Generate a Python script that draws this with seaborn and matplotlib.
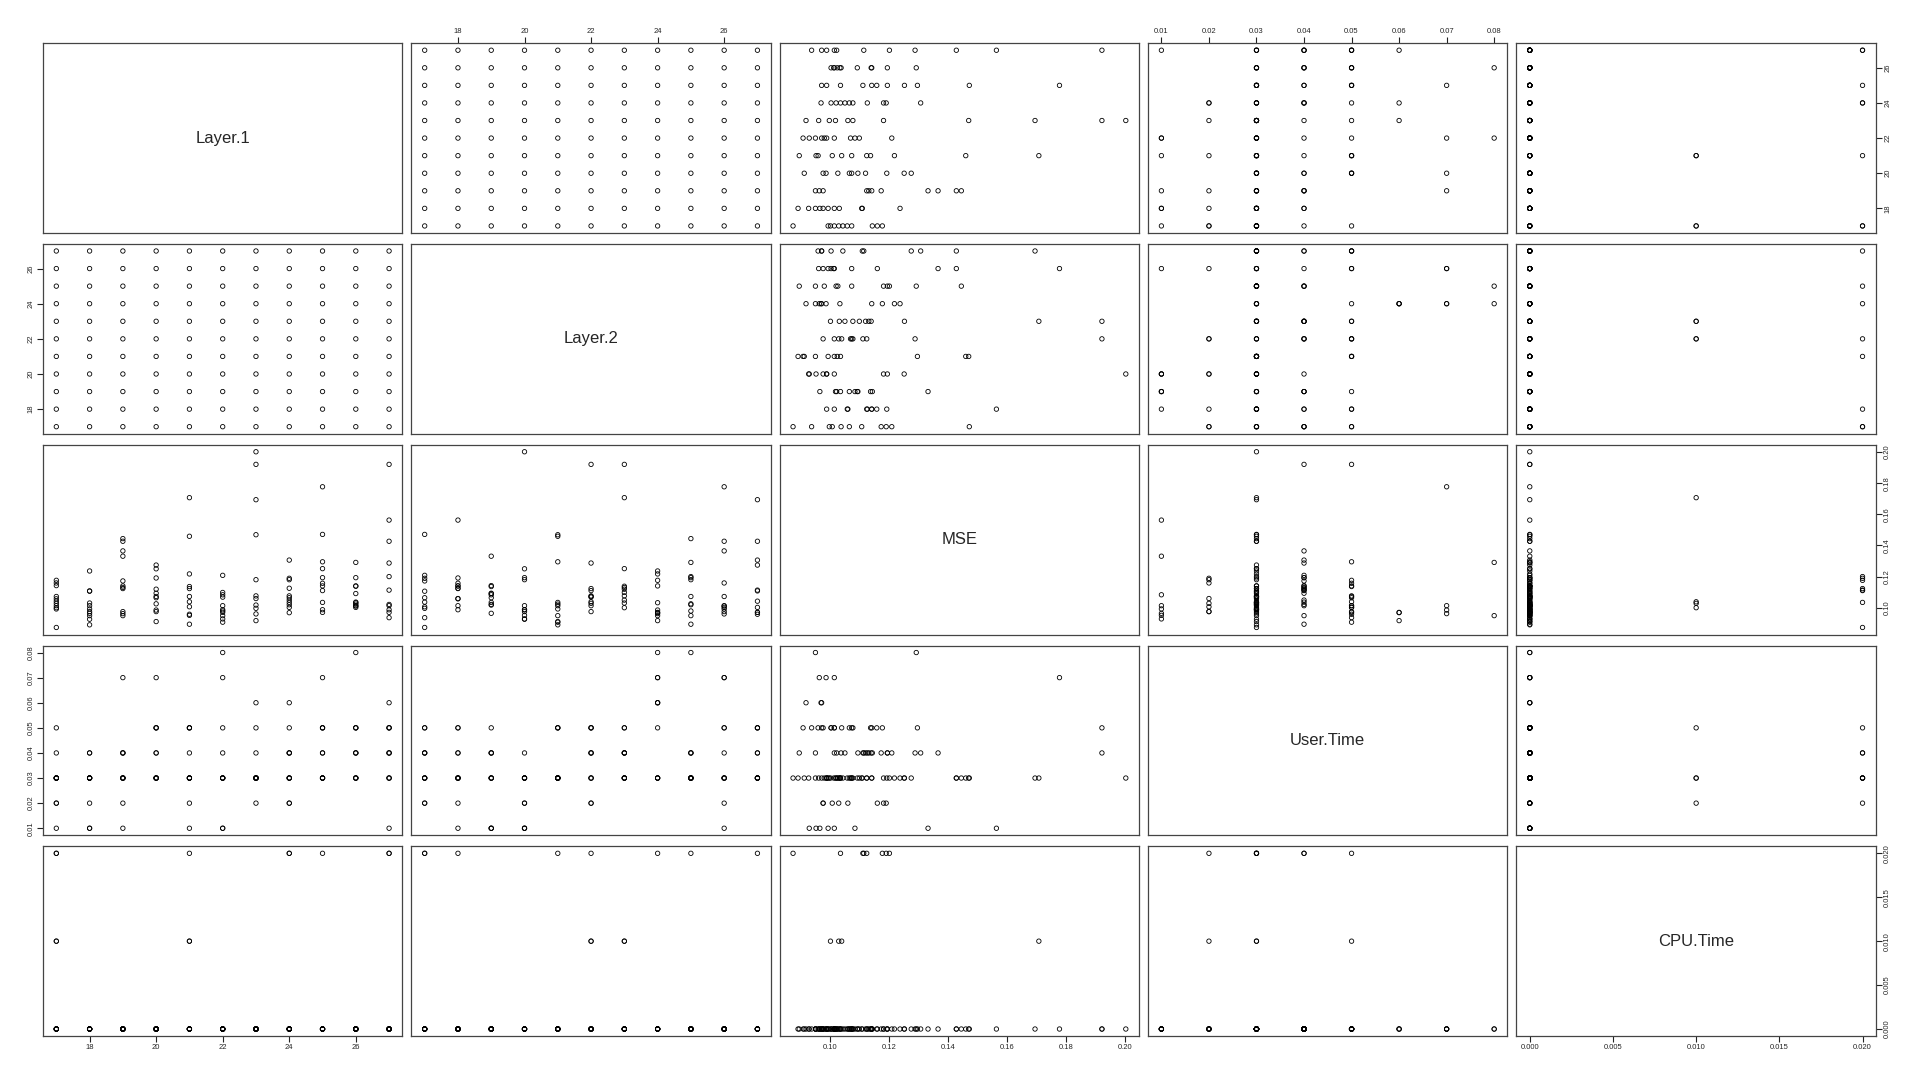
import numpy as np
import pandas as pd
import seaborn as sns
import matplotlib.pyplot as plt
from matplotlib.ticker import FormatStrFormatter

# grid of hidden-layer sizes
layer_sizes = list(range(17, 28))

# MSE, rows = Layer.1 (17..27), columns = Layer.2 (17..27)
mse = [
    [0.0873, 0.1057, 0.1142, 0.1013, 0.0992, 0.1028, 0.1000, 0.1176, 0.1072, 0.1159, 0.1042],
    [0.1106, 0.1013, 0.0964, 0.0926, 0.0890, 0.0975, 0.1030, 0.1236, 0.0949, 0.0992, 0.1108],
    [0.1172, 0.1140, 0.1331, 0.0975, 0.0949, 0.1123, 0.1130, 0.0962, 0.1444, 0.1365, 0.1427],
    [0.1064, 0.1191, 0.1093, 0.1250, 0.0911, 0.1072, 0.1119, 0.0985, 0.1025, 0.0975, 0.1274],
    [0.1006, 0.1123, 0.1136, 0.0951, 0.1459, 0.1038, 0.1707, 0.1217, 0.0894, 0.1072, 0.0958],
    [0.1208, 0.0987, 0.1083, 0.0928, 0.0907, 0.1068, 0.1098, 0.0949, 0.0979, 0.1013, 0.0970],
    [0.0996, 0.1059, 0.1017, 0.2002, 0.1469, 0.1921, 0.1076, 0.0917, 0.1180, 0.0960, 0.1694],
    [0.1189, 0.1125, 0.1064, 0.1180, 0.1034, 0.1076, 0.1049, 0.0968, 0.1019, 0.1002, 0.1306],
    [0.1471, 0.1157, 0.1034, 0.0987, 0.1295, 0.1110, 0.1251, 0.1140, 0.1193, 0.1777, 0.0970],
    [0.1036, 0.1140, 0.1091, 0.1193, 0.1023, 0.1013, 0.1138, 0.1032, 0.1291, 0.1011, 0.1002],
    [0.0936, 0.1563, 0.1021, 0.0987, 0.1013, 0.1287, 0.1921, 0.0970, 0.1200, 0.1427, 0.1113],
]

user_time = [
    [0.03, 0.03, 0.04, 0.01, 0.03, 0.02, 0.03, 0.05, 0.03, 0.02, 0.03],
    [0.03, 0.04, 0.01, 0.03, 0.03, 0.02, 0.03, 0.03, 0.04, 0.01, 0.03],
    [0.04, 0.03, 0.01, 0.02, 0.03, 0.03, 0.04, 0.07, 0.03, 0.04, 0.03],
    [0.05, 0.03, 0.04, 0.03, 0.03, 0.05, 0.04, 0.07, 0.03, 0.05, 0.03],
    [0.02, 0.03, 0.05, 0.01, 0.03, 0.05, 0.03, 0.03, 0.04, 0.03, 0.05],
    [0.04, 0.03, 0.01, 0.01, 0.05, 0.03, 0.03, 0.08, 0.03, 0.07, 0.03],
    [0.03, 0.02, 0.03, 0.03, 0.03, 0.04, 0.05, 0.06, 0.03, 0.03, 0.03],
    [0.02, 0.04, 0.03, 0.02, 0.03, 0.03, 0.04, 0.06, 0.03, 0.05, 0.04],
    [0.03, 0.05, 0.03, 0.03, 0.05, 0.04, 0.03, 0.03, 0.04, 0.07, 0.05],
    [0.04, 0.05, 0.03, 0.04, 0.03, 0.05, 0.04, 0.03, 0.08, 0.03, 0.05],
    [0.05, 0.01, 0.04, 0.03, 0.05, 0.04, 0.05, 0.06, 0.03, 0.03, 0.04],
]

cpu_time = [
    [0.02, 0.00, 0.00, 0.00, 0.00, 0.01, 0.01, 0.02, 0.00, 0.00, 0.00],
    [0.00, 0.00, 0.00, 0.00, 0.00, 0.00, 0.00, 0.00, 0.00, 0.00, 0.00],
    [0.00, 0.00, 0.00, 0.00, 0.00, 0.00, 0.00, 0.00, 0.00, 0.00, 0.00],
    [0.00, 0.00, 0.00, 0.00, 0.00, 0.00, 0.00, 0.00, 0.00, 0.00, 0.00],
    [0.00, 0.02, 0.00, 0.00, 0.00, 0.01, 0.01, 0.00, 0.00, 0.00, 0.00],
    [0.00, 0.00, 0.00, 0.00, 0.00, 0.00, 0.00, 0.00, 0.00, 0.00, 0.00],
    [0.00, 0.00, 0.00, 0.00, 0.00, 0.00, 0.00, 0.00, 0.00, 0.00, 0.00],
    [0.02, 0.00, 0.00, 0.00, 0.02, 0.00, 0.00, 0.00, 0.00, 0.00, 0.00],
    [0.00, 0.00, 0.00, 0.00, 0.00, 0.02, 0.00, 0.00, 0.00, 0.00, 0.00],
    [0.00, 0.00, 0.00, 0.00, 0.00, 0.00, 0.00, 0.00, 0.00, 0.00, 0.00],
    [0.00, 0.00, 0.00, 0.00, 0.00, 0.00, 0.00, 0.00, 0.02, 0.00, 0.02],
]

var_names = ["Layer.1", "Layer.2", "MSE", "User.Time", "CPU.Time"]

df = pd.DataFrame({
    "Layer.1": np.repeat(layer_sizes, len(layer_sizes)),
    "Layer.2": np.tile(layer_sizes, len(layer_sizes)),
    "MSE": np.ravel(mse),
    "User.Time": np.ravel(user_time),
    "CPU.Time": np.ravel(cpu_time),
})

sns.set_style("white")
plt.rcParams["font.family"] = ["Liberation Sans", "DejaVu Sans"]
plt.rcParams["axes.xmargin"] = 0.04
plt.rcParams["axes.ymargin"] = 0.04

g = sns.PairGrid(df, vars=var_names, despine=False, height=2, aspect=1.9)
g.map_offdiag(sns.scatterplot, marker="o", s=10, facecolor="none",
              edgecolor="black", linewidth=0.6)

fig = g.figure
fig.set_size_inches(19.2, 10.8)
fig.subplots_adjust(left=0.0224, right=0.977, bottom=0.0407, top=0.960,
                    wspace=0.025, hspace=0.058)

ticks = {
    "Layer.1": ([18, 20, 22, 24, 26], "%d"),
    "Layer.2": ([18, 20, 22, 24, 26], "%d"),
    "MSE": ([0.10, 0.12, 0.14, 0.16, 0.18, 0.20], "%.2f"),
    "User.Time": ([0.01, 0.02, 0.03, 0.04, 0.05, 0.06, 0.07, 0.08], "%.2f"),
    "CPU.Time": ([0.0, 0.005, 0.01, 0.015, 0.02], "%.3f"),
}

n = len(var_names)
for i in range(n):
    for j in range(n):
        ax = g.axes[i, j]
        ax.set_xlabel("")
        ax.set_ylabel("")
        for sp in ax.spines.values():
            sp.set_color("#444444")
            sp.set_linewidth(0.9)
        ax.tick_params(which="both", bottom=False, top=False, left=False, right=False,
                       labelbottom=False, labeltop=False, labelleft=False, labelright=False,
                       length=4, width=0.8, pad=2, labelsize=5.5, color="#222222")

for k, name in enumerate(var_names):
    locs, fmt = ticks[name]
    g.axes[0, k].set_xticks(locs)
    g.axes[0, k].xaxis.set_major_formatter(FormatStrFormatter(fmt))
    g.axes[k, 0].set_yticks(locs)
    g.axes[k, 0].yaxis.set_major_formatter(FormatStrFormatter(fmt))
    g.axes[k, k].text(0.5, 0.5, name, transform=g.axes[k, k].transAxes,
                      ha="center", va="center", fontsize=12)

# alternate axis sides, like R's pairs()
for k in range(n):
    if k % 2 == 0:
        g.axes[n - 1, k].tick_params(bottom=True, labelbottom=True)
        g.axes[k, n - 1].tick_params(right=True, labelright=True)
        for lab in g.axes[k, n - 1].get_yticklabels():
            lab.set_rotation(90)
            lab.set_va("center")
    else:
        g.axes[0, k].tick_params(top=True, labeltop=True)
        g.axes[k, 0].tick_params(left=True, labelleft=True)
        for lab in g.axes[k, 0].get_yticklabels():
            lab.set_rotation(90)
            lab.set_va("center")

fig.savefig("out.png", dpi=100, facecolor="white")
